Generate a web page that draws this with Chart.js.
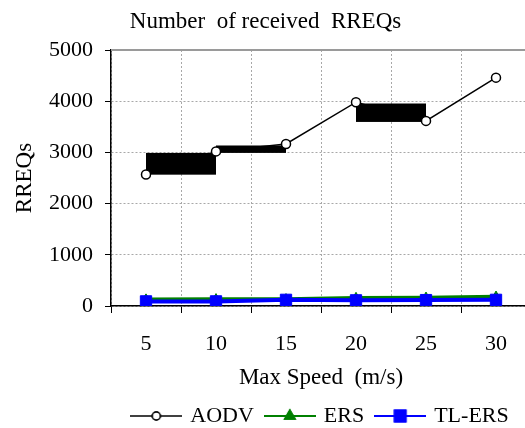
<!DOCTYPE html>
<html>
<head>
<meta charset="utf-8">
<script src="https://cdn.jsdelivr.net/npm/chart.js@4"></script>
<style>
  html, body { margin: 0; padding: 0; background: #fff; overflow: hidden; }
  #wrap { width: 525px; height: 428px; overflow: hidden; }
</style>
</head>
<body>
<div id="wrap"><canvas id="rreqChart" width="540" height="428"></canvas></div>
<script>
const speeds = ['5', '10', '15', '20', '25', '30'];
const aodv = [2570, 3020, 3165, 3980, 3615, 4460];
const ers = [130, 135, 135, 160, 165, 185];
const tlErs = [90, 90, 120, 110, 115, 120];
const yTicks = [0, 1000, 2000, 3000, 4000, 5000];

// black blocks in the source figure, from one speed to the next
const blockFrom = [0, 1, 3];
const blockLow = [2565, 2990, 3595];
const blockHigh = [2990, 3135, 3955];

const serif = 'Liberation Serif, Times New Roman, serif';

function legendIcon(color, style, radius, lineWidth, fill) {
  const c = document.createElement('canvas');
  c.width = 52; c.height = 16;
  const ctx = c.getContext('2d');
  ctx.strokeStyle = color;
  ctx.lineWidth = lineWidth;
  ctx.beginPath();
  ctx.moveTo(0, 8); ctx.lineTo(52, 8);
  ctx.stroke();
  ctx.fillStyle = fill;
  ctx.lineWidth = 1.5;
  Chart.helpers.drawPoint(ctx, { pointStyle: style, radius: radius, rotation: 0, borderWidth: 1.5 }, 26, 8);
  ctx.fill();
  ctx.stroke();
  return c;
}

const blocks = {
  id: 'blocks',
  beforeDatasetsDraw(chart) {
    const { ctx, scales: { x, y } } = chart;
    ctx.save();
    ctx.fillStyle = '#000';
    blockFrom.forEach((i, k) => {
      const x1 = x.getPixelForValue(i);
      const x2 = x.getPixelForValue(i + 1);
      const y1 = y.getPixelForValue(blockHigh[k]);
      const y2 = y.getPixelForValue(blockLow[k]);
      ctx.fillRect(x1, y1, x2 - x1, y2 - y1);
    });
    ctx.restore();
  },
  afterDraw(chart) {
    // grey frame line along the top of the plot
    const { ctx, chartArea } = chart;
    ctx.save();
    ctx.strokeStyle = '#9a9a9a';
    ctx.lineWidth = 2;
    ctx.beginPath();
    ctx.moveTo(chartArea.left, chartArea.top);
    ctx.lineTo(chartArea.right, chartArea.top);
    ctx.stroke();
    ctx.restore();
  }
};

const icons = [
  legendIcon('#000', 'circle', 4, 1.5, '#fff'),
  legendIcon('#008000', 'triangle', 6, 2, '#008000'),
  legendIcon('#0000ff', 'rect', 8, 2, '#0000ff')
];

new Chart(document.getElementById('rreqChart'), {
  type: 'line',
  data: {
    labels: speeds,
    datasets: [
      {
        label: 'AODV', data: aodv, order: 0,
        borderColor: '#000', borderWidth: 1.5,
        pointStyle: 'circle', pointRadius: 4.5,
        pointBackgroundColor: '#fff', pointBorderColor: '#000', pointBorderWidth: 1.5
      },
      {
        label: 'ERS', data: ers, order: 2,
        borderColor: '#008000', borderWidth: 3.5,
        pointStyle: 'triangle', pointRadius: 5.5,
        pointBackgroundColor: '#008000', pointBorderColor: '#008000', pointBorderWidth: 1
      },
      {
        label: 'TL-ERS', data: tlErs, order: 1,
        borderColor: '#0000ff', borderWidth: 4,
        pointStyle: 'rect', pointRadius: 8,
        pointBackgroundColor: '#0000ff', pointBorderColor: '#0000ff', pointBorderWidth: 1
      }
    ]
  },
  options: {
    responsive: false,
    animation: false,
    layout: { padding: { left: 0, right: 9, top: 0, bottom: -9 } },
    elements: { line: { tension: 0 } },
    scales: {
      x: {
        offset: true,
        afterFit(scale) { scale.height = 86; },
        grid: { offset: true, color: '#a8a8a8', tickColor: '#000', tickLength: 7, tickWidth: 1 },
        border: { color: '#000', width: 1.5, dash: [2, 2] },
        ticks: { color: '#000', padding: 18, font: { family: serif, size: 22 }, maxRotation: 0 },
        title: { display: true, text: 'Max Speed  (m/s)', color: '#000', padding: { top: 0, bottom: 0 }, font: { family: serif, size: 23 } }
      },
      y: {
        min: 0, max: 5000,
        afterBuildTicks(scale) { scale.ticks = yTicks.map(v => ({ value: v })); },
        afterFit(scale) { scale.width = 111; },
        grid: { color: '#a8a8a8', tickColor: '#000', tickLength: 6 },
        border: { color: '#000', width: 1.5, dash: [2, 2] },
        ticks: { color: '#000', padding: 12, font: { family: serif, size: 22 }, callback: v => String(v) },
        title: { display: true, text: 'RREQs', color: '#000', padding: { top: 11, bottom: 0 }, font: { family: serif, size: 23 } }
      }
    },
    plugins: {
      title: {
        display: true, text: 'Number  of received  RREQs', color: '#000',
        font: { family: serif, size: 23, weight: 'normal' },
        padding: { top: 8, bottom: 14.4 }
      },
      legend: {
        position: 'bottom', fullSize: false,
        labels: {
          usePointStyle: true, pointStyleWidth: 46, boxHeight: 16,
          color: '#000', padding: 13, font: { family: serif, size: 22 },
          generateLabels(chart) {
            return chart.data.datasets.map((ds, i) => ({
              text: ds.label, pointStyle: icons[i], datasetIndex: i,
              fontColor: '#000', strokeStyle: ds.borderColor, lineWidth: 0, hidden: false
            }));
          }
        }
      },
      tooltip: { enabled: false }
    }
  },
  plugins: [blocks]
});
</script>
</body>
</html>
